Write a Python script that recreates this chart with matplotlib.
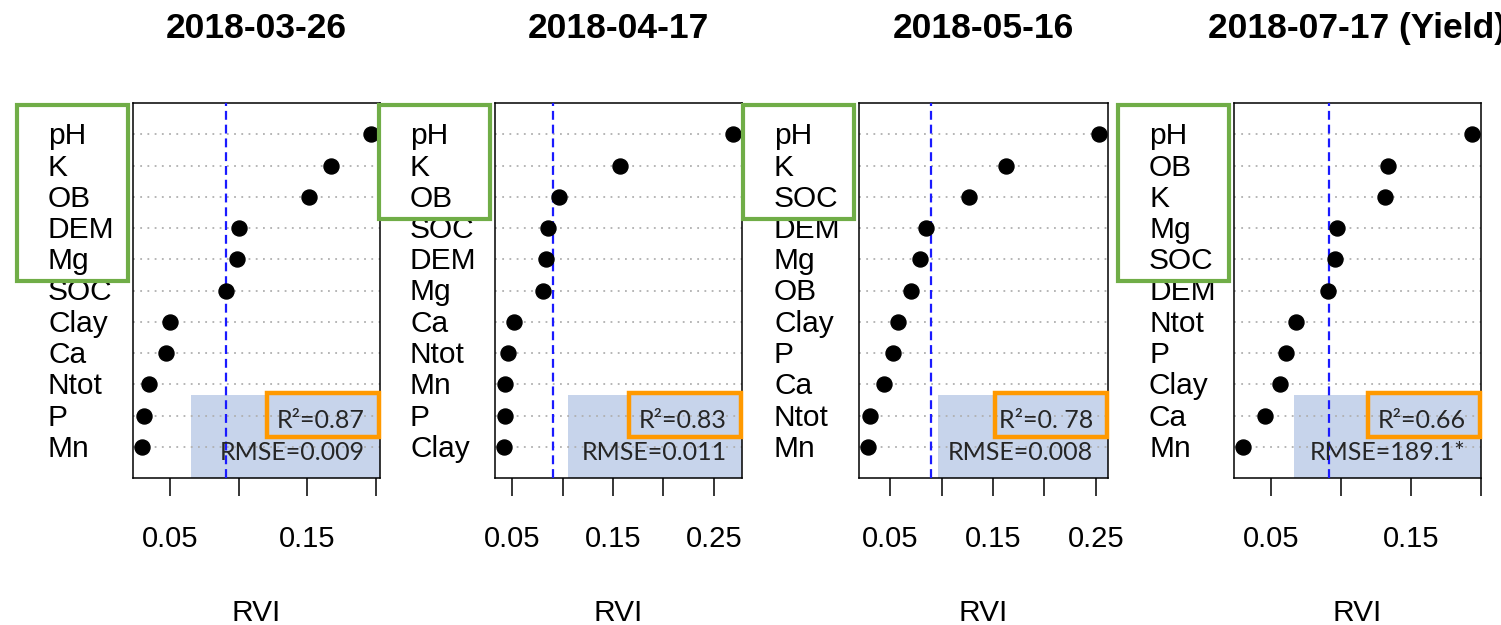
import numpy as np
import matplotlib
matplotlib.use("Agg")
import matplotlib.pyplot as plt
from matplotlib.patches import Rectangle

# ---- data -------------------------------------------------------------
titles = ["2018-03-26", "2018-04-17", "2018-05-16", "2018-07-17 (Yield)"]

vars_0326 = ["pH", "K", "OB", "DEM", "Mg", "SOC", "Clay", "Ca", "Ntot", "P", "Mn"]
rvi_0326 = [0.196, 0.167, 0.151, 0.100, 0.0986, 0.0905, 0.050, 0.047, 0.035, 0.031, 0.030]

vars_0417 = ["pH", "K", "OB", "SOC", "DEM", "Mg", "Ca", "Ntot", "Mn", "P", "Clay"]
rvi_0417 = [0.269, 0.1565, 0.0968, 0.0858, 0.0838, 0.0808, 0.052, 0.046, 0.043, 0.043, 0.042]

vars_0516 = ["pH", "K", "SOC", "DEM", "Mg", "OB", "Clay", "P", "Ca", "Ntot", "Mn"]
rvi_0516 = [0.253, 0.163, 0.1265, 0.085, 0.079, 0.0696, 0.057, 0.053, 0.044, 0.030, 0.0284]

vars_0717 = ["pH", "OB", "K", "Mg", "SOC", "DEM", "Ntot", "P", "Clay", "Ca", "Mn"]
rvi_0717 = [0.1936, 0.1336, 0.1314, 0.097, 0.0957, 0.0907, 0.068, 0.0607, 0.0564, 0.0457, 0.030]

r2_labels = ["R\u00b2=0.87", "R\u00b2=0.83", "R\u00b2=0. 78", "R\u00b2=0.66"]
rmse_labels = ["RMSE=0.009", "RMSE=0.011", "RMSE=0.008", "RMSE=189.1*"]
n_key = [5, 3, 3, 5]  # number of top-ranked variables framed in green

panels = [(vars_0326, rvi_0326), (vars_0417, rvi_0417),
          (vars_0516, rvi_0516), (vars_0717, rvi_0717)]

# ---- layout (pixels) --------------------------------------------------
W, H = 1501, 625
ax_left = [133, 495, 859, 1234]
ax_width = [247, 247, 249, 247]
ax_top, ax_bottom = 103, 478
shade_left = [191, 568, 938, 1294]

GREEN = "#70AD47"
ORANGE = "#FF9900"
SHADE = "#C7D4EB"

plt.rcParams["font.family"] = ["Liberation Sans", "DejaVu Sans"]

fig = plt.figure(figsize=(W / 100, H / 100), dpi=100)


def fx(x):
    return x / W


def fy(y):
    return 1 - y / H


for i, (names, vals) in enumerate(panels):
    vals = np.asarray(vals)
    n = len(vals)
    rows = np.arange(n, 0, -1)

    ax = fig.add_axes([fx(ax_left[i]), fy(ax_bottom),
                       ax_width[i] / W, (ax_bottom - ax_top) / H])

    span = vals.max() - vals.min()
    lo, hi = vals.min() - 0.04 * span, vals.max() + 0.04 * span
    ax.set_xlim(lo, hi)
    ax.set_ylim(0, n + 1)

    # dotted guide lines and points
    for r in rows:
        ax.axhline(r, color="#B0B0B0", lw=1.3, ls=(0, (1, 3)), zorder=1)
    ax.plot(vals, rows, "o", color="black", ms=10.8, zorder=4)

    # mean importance threshold
    ax.axvline(vals.mean(), color="#1A1AFF", lw=1.6, ls=(0, (4, 2.2)), zorder=3)

    # highlighted annotation panel
    ax_px_w = ax_width[i]
    sx = (shade_left[i] - ax_left[i]) / ax_px_w
    ax.add_patch(Rectangle((sx, 0), 1 - sx, (ax_bottom - 395) / (ax_bottom - ax_top),
                           transform=ax.transAxes, facecolor=SHADE,
                           edgecolor="none", zorder=0.5))

    ticks = np.arange(0.05, hi + 1e-9, 0.05)
    ax.set_xticks(ticks)
    ax.set_xticklabels([f"{t:.2f}" if k % 2 == 0 else "" for k, t in enumerate(ticks)])
    ax.tick_params(axis="x", length=13, width=1.1, labelsize=21, pad=21)
    ax.set_yticks([])
    for s in ax.spines.values():
        s.set_linewidth(1.1)
    ax.set_xlabel("RVI", fontsize=21.5, labelpad=33)
    ax.set_title(titles[i], fontsize=25.5, fontweight="bold", pad=47)

    # variable names
    row_px = (ax_bottom - ax_top) / (n + 1)
    for name, r in zip(names, rows):
        y = ax_bottom - r * row_px
        fig.text(fx(ax_left[i] - 85), fy(y + 2), name, fontsize=21.5,
                 ha="left", va="center")

    # green frame around the top-ranked variables
    g_top = ax_top + 2
    g_bot = ax_bottom - (n + 1 - n_key[i] - 0.7) * row_px
    fig.add_artist(Rectangle((fx(ax_left[i] - 116), fy(g_bot)),
                             111 / W, (g_bot - g_top) / H,
                             transform=fig.transFigure, facecolor="none",
                             edgecolor=GREEN, lw=3, zorder=10))

    # model performance text
    right = ax_left[i] + ax_px_w
    fig.add_artist(Rectangle((fx(right - 113), fy(437)), 112 / W, 44 / H,
                             transform=fig.transFigure, facecolor="none",
                             edgecolor=ORANGE, lw=3.2, zorder=10))
    fig.text(fx(right - 15), fy(421), r2_labels[i], fontsize=18,
             family=["Lato", "DejaVu Sans"], color="#262626",
             ha="right", va="center", zorder=11)
    fig.text(fx(right - 15), fy(453), rmse_labels[i], fontsize=18,
             family=["Lato", "DejaVu Sans"], color="#262626",
             ha="right", va="center", zorder=11)

fig.savefig("out.png", dpi=100)
